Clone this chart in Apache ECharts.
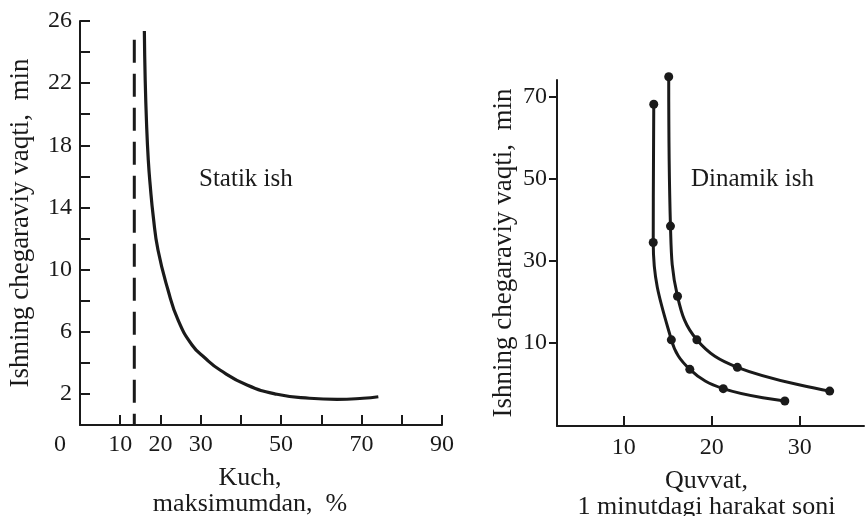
<!DOCTYPE html>
<html><head><meta charset="utf-8">
<script src="https://cdn.jsdelivr.net/npm/echarts@6/dist/echarts.min.js"></script>
<style>html,body{margin:0;padding:0;background:#fff}#c{width:865px;height:516px}</style>
</head><body><div id="c"></div>
<script>
// Left panel: static work
const staticForce = [16.0,16.21,16.56,16.98,17.45,18.22,19.39,21.88,24.37,27.85,31.08,34.81,41.52,48.98,57.05,63.9,70.36,74.17];
const staticTime  = [25.35,22.2,19.31,17.05,15.44,13.4,11.26,8.69,6.76,5.15,4.31,3.54,2.57,1.98,1.72,1.65,1.72,1.82];
const asymptoteX = [13.5, 13.5];
const asymptoteY = [24.8, 0];
const leftXLabels = [0,10,20,30,50,70,90];
const leftYLabels = [2,6,10,14,18,22,26];
// Right panel: dynamic work
const dynA_x = [13.4,13.34,15.4,17.5,21.3,28.3];
const dynA_y = [68.2,34.5,10.8,3.6,-1.1,-4.1];
const dynB_x = [15.1,15.3,16.1,18.3,22.9,33.4];
const dynB_y = [74.9,38.5,21.4,10.8,4.1,-1.7];
const rightXLabels = [10,20,30];
const rightYLabels = [10,30,50,70];

const zip = (a,b) => a.map((v,i)=>[v,b[i]]);
const FF = '"Liberation Serif", "Times New Roman", serif';
const C = '#1a1a1a';
const FS = 24;
const lab = {color:C, fontFamily:FF, fontSize:FS};
const nameLab = {color:C, fontFamily:FF, fontSize:26};

const chart = echarts.init(document.getElementById('c'), null, {renderer:'canvas'});
chart.setOption({
  animation:false,
  backgroundColor:'#fff',
  grid:[
    {left:80, top:21, width:362, height:404, containLabel:false, outerBoundsMode:'none'},
    {left:557, top:80, width:307, height:346, containLabel:false, outerBoundsMode:'none'}
  ],
  xAxis:[
    {gridIndex:0, type:'value', min:0, max:90, interval:10,
     axisLine:{onZero:false, lineStyle:{color:C,width:2}},
     axisTick:{inside:true,length:10,lineStyle:{color:C,width:2}},
     axisLabel:Object.assign({customValues:leftXLabels, margin:8,
       formatter:v=> v===0 ? '{z|0}' : String(v),
       rich:{z:{fontFamily:FF,fontSize:FS,color:C,padding:[0,40,0,0]}}},lab),
     splitLine:{show:false},
     name:'Kuch,\nmaksimumdan,  %', nameLocation:'middle', nameGap:40,
     nameTextStyle:Object.assign({lineHeight:26, padding:[0,22,0,0]},nameLab)},
    {gridIndex:1, type:'value', min:2.4, max:37.3,
     axisLine:{onZero:false, lineStyle:{color:C,width:2}},
     axisTick:{inside:true,length:10,customValues:rightXLabels,lineStyle:{color:C,width:2}},
     axisLabel:Object.assign({customValues:rightXLabels, margin:10},lab),
     splitLine:{show:false},
     name:'Quvvat,\n1 minutdagi harakat soni', nameLocation:'middle', nameGap:42,
     nameTextStyle:Object.assign({lineHeight:26, padding:[0,8,0,0]},nameLab)}
  ],
  yAxis:[
    {gridIndex:0, type:'value', min:0, max:26, interval:2,
     axisLine:{onZero:false, lineStyle:{color:C,width:2}},
     axisTick:{inside:true,length:10,lineStyle:{color:C,width:2}},
     axisLabel:Object.assign({customValues:leftYLabels, margin:8},lab),
     splitLine:{show:false},
     name:'Ishning chegaraviy vaqti,  min', nameLocation:'middle', nameGap:46,
     nameTextStyle:{color:C, fontFamily:FF, fontSize:27}},
    {gridIndex:1, type:'value', min:-10.2, max:74.1,
     axisLine:{onZero:false, lineStyle:{color:C,width:2}},
     axisTick:{inside:false,length:8,customValues:rightYLabels,lineStyle:{color:C,width:2}},
     axisLabel:Object.assign({customValues:rightYLabels, margin:10},lab),
     splitLine:{show:false},
     name:'Ishning chegaraviy vaqti,  min', nameLocation:'middle', nameGap:40,
     nameTextStyle:{color:C, fontFamily:FF, fontSize:27}}
  ],
  graphic:[
    {type:'text', left:199, top:167, style:{text:'Statik ish', fill:C, font:'25px '+FF}},
    {type:'text', left:691, top:167, style:{text:'Dinamik ish', fill:C, font:'25px '+FF}}
  ],
  series:[
    {type:'line', xAxisIndex:0, yAxisIndex:0, data:zip(staticForce,staticTime), smooth:0.5,
     showSymbol:false, clip:false, lineStyle:{color:C,width:3.2}},
    {type:'line', xAxisIndex:0, yAxisIndex:0, data:zip(asymptoteX,asymptoteY),
     showSymbol:false, clip:false, lineStyle:{color:C,width:3,type:[23,11]}},
    {type:'line', xAxisIndex:1, yAxisIndex:1, data:zip(dynA_x,dynA_y), smooth:0.4, clip:false,
     symbol:'circle', symbolSize:9, itemStyle:{color:C}, lineStyle:{color:C,width:3}},
    {type:'line', xAxisIndex:1, yAxisIndex:1, data:zip(dynB_x,dynB_y), smooth:0.4, clip:false,
     symbol:'circle', symbolSize:9, itemStyle:{color:C}, lineStyle:{color:C,width:3}}
  ]
});
</script></body></html>
